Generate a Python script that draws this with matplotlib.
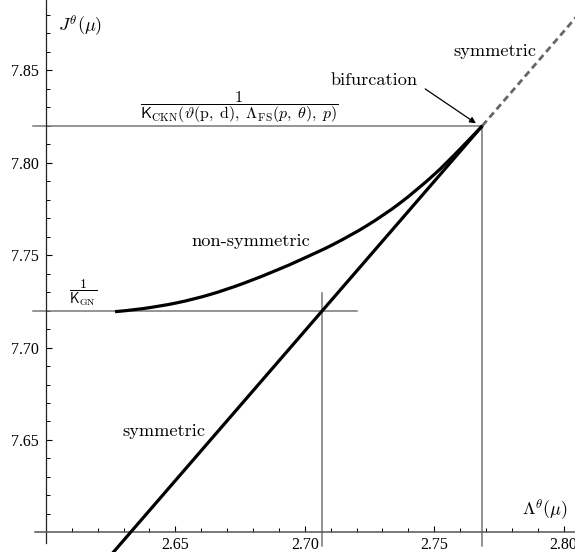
import matplotlib
matplotlib.use("Agg")
import matplotlib.pyplot as plt
from matplotlib.ticker import FixedLocator, FormatStrFormatter
from matplotlib.path import Path
from matplotlib.patches import PathPatch
import numpy as np

plt.rcParams['font.family'] = ['Liberation Serif', 'DejaVu Serif']
plt.rcParams['mathtext.fontset'] = 'cm'
plt.rcParams['axes.unicode_minus'] = False

# ---- data ----
sym_solid_x = [2.6234, 2.7686]
sym_solid_y = [7.585, 7.820]
sym_dash_x = [2.7686, 2.8179]
sym_dash_y = [7.820, 7.900]
nonsym_x = [2.62670, 2.63752, 2.65066, 2.66341, 2.67616, 2.68930, 2.69818,
            2.71093, 2.72407, 2.73682, 2.74957, 2.75924, 2.76862]
nonsym_y = [7.71940, 7.72107, 7.72421, 7.72870, 7.73465, 7.74195, 7.74736,
            7.75575, 7.76603, 7.77820, 7.79308, 7.80633, 7.82000]
j_ckn = 7.820
j_gn = 7.7196
lam_bif = 2.7686
lam_gn = 2.7066
x_ticks = [2.65, 2.70, 2.75, 2.80]
y_ticks = [7.65, 7.70, 7.75, 7.80, 7.85]
x_minor = [round(2.61 + 0.01 * i, 2) for i in range(20)]
y_minor = [round(7.61 + 0.01 * i, 2) for i in range(28)]

fig = plt.figure(figsize=(5.75, 5.52), dpi=100)
ax = fig.add_axes([0, 0, 1, 1])
ax.set_xlim(2.58226, 2.80437)
ax.set_ylim(7.5894, 7.888)

gray = '#777777'
# reference lines
ax.plot([2.5951, lam_bif], [j_ckn, j_ckn], color=gray, lw=1.1, zorder=2)
ax.plot([2.5951, 2.7201], [j_gn, j_gn], color=gray, lw=1.1, zorder=2)
ax.plot([lam_gn, lam_gn], [7.5924, 7.7297], color=gray, lw=1.1, zorder=2)
ax.plot([lam_bif, lam_bif], [7.5924, j_ckn], color=gray, lw=1.1, zorder=2)

# curves
ax.plot(sym_solid_x, sym_solid_y, color='black', lw=2.3, zorder=3, solid_capstyle='butt')
ax.plot(sym_dash_x, sym_dash_y, color='#666666', lw=2.0, ls=(0, (2.4, 1.5)), zorder=3)

# non-symmetric branch drawn as a smooth path through the read points
P = np.column_stack([nonsym_x, nonsym_y])
verts = [P[0]]
codes = [Path.MOVETO]
n = len(P)
for i in range(n - 1):
    p0 = P[max(i - 1, 0)]
    p1 = P[i]
    p2 = P[i + 1]
    p3 = P[min(i + 2, n - 1)]
    c1 = p1 + (p2 - p0) / 6.0
    c2 = p2 - (p3 - p1) / 6.0
    verts += [c1, c2, p2]
    codes += [Path.CURVE4] * 3
ax.add_patch(PathPatch(Path(verts, codes), facecolor='none', edgecolor='black',
                       lw=2.3, capstyle='butt', zorder=3))

# axes
for s in ['top', 'right']:
    ax.spines[s].set_visible(False)
ax.spines['left'].set_position(('data', 2.60))
ax.spines['bottom'].set_position(('data', 7.60))
ax.spines['left'].set_bounds(7.5943, 7.888)
ax.spines['bottom'].set_bounds(2.5958, 2.80437)
ax.spines['left'].set_color('#222222')
ax.spines['bottom'].set_color('#555555')
ax.spines['left'].set_linewidth(0.9)
ax.spines['bottom'].set_linewidth(1.1)

ax.xaxis.set_major_locator(FixedLocator(x_ticks))
ax.yaxis.set_major_locator(FixedLocator(y_ticks))
ax.xaxis.set_minor_locator(FixedLocator(x_minor))
ax.yaxis.set_minor_locator(FixedLocator(y_minor))
ax.xaxis.set_major_formatter(FormatStrFormatter('%.2f'))
ax.yaxis.set_major_formatter(FormatStrFormatter('%.2f'))
ax.tick_params(which='major', direction='in', length=4.5, width=0.8, labelsize=11.5)
ax.tick_params(axis='x', which='major', pad=3)
ax.tick_params(axis='y', which='major', pad=5)
ax.tick_params(which='minor', direction='in', length=2.6, width=0.7)

tfs = 13.2
cm = 'cmr10'
ax.text(2.6047, 7.8736, r'$J^{\theta}(\mu)$', fontsize=13, ha='left', va='center')
ax.text(2.8016, 7.6121, r'$\Lambda^{\theta}(\mu)$', fontsize=13, ha='right', va='center')
ax.text(2.7733, 7.8604, 'symmetric', fontsize=tfs, family=cm, ha='center', va='center')
ax.text(2.7268, 7.8447, 'bifurcation', fontsize=tfs, family=cm, ha='center', va='center')
ax.text(2.6793, 7.7573, 'non-symmetric', fontsize=tfs, family=cm, ha='center', va='center')
ax.text(2.6297, 7.6545, 'symmetric', fontsize=tfs, family=cm, ha='left', va='center')
ax.annotate('', xy=(2.7661, 7.8213), xytext=(2.7465, 7.8399),
            arrowprops=dict(arrowstyle='-|>', color='black', lw=0.9,
                            mutation_scale=9, shrinkA=0, shrinkB=0))
ax.text(2.6746, 7.8301,
        r'$\dfrac{1}{\mathsf{K}_{\mathrm{CKN}}(\vartheta(\mathrm{p},\;\mathrm{d}),\;'
        r'\Lambda_{\mathrm{FS}}(p,\;\theta),\;p)}$',
        fontsize=11.5, ha='center', va='center')
ax.text(2.6143, 7.7295, r'$\dfrac{1}{\mathsf{K}_{\mathrm{GN}}}$', fontsize=10, ha='center', va='center')

fig.savefig('out.png', dpi=100)
